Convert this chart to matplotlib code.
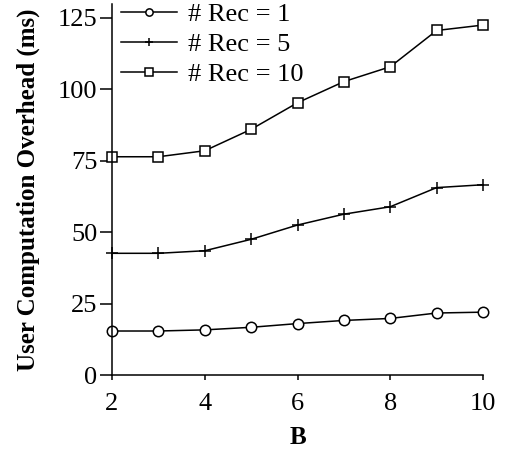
import matplotlib
matplotlib.use("Agg")
import matplotlib.pyplot as plt

# data
B = [2, 3, 4, 5, 6, 7, 8, 9, 10]
rec1 = [15.4, 15.4, 15.8, 16.7, 18.0, 19.1, 19.8, 21.7, 22.0]
rec5 = [42.6, 42.6, 43.5, 47.5, 52.5, 56.3, 58.9, 65.6, 66.6]
rec10 = [76.4, 76.4, 78.5, 86.0, 95.3, 102.7, 107.9, 120.6, 122.5]
labels = ["# Rec = 1", "# Rec = 5", "# Rec = 10"]
xticks = [2, 4, 6, 8, 10]
yticks = [0, 25, 50, 75, 100, 125]

plt.rcParams['font.family'] = ['Liberation Serif', 'STIXGeneral', 'DejaVu Serif']
plt.rcParams['mathtext.fontset'] = 'stix'

fs = 19
fig = plt.figure(figsize=(5.1, 4.54), dpi=100)
ax = fig.add_axes([0.2196, 0.174, 0.7275, 0.818])

lw = 1.1
ax.plot(B, rec1, color='black', lw=lw, marker='o', ms=7.5, mfc='white',
        mec='black', mew=1.1, label=labels[0])
ax.plot(B, rec5, color='black', lw=lw, marker='+', ms=9, mew=1.1,
        label=labels[1])
ax.plot(B, rec10, color='black', lw=lw, marker='s', ms=7.5, mfc='white',
        mec='black', mew=1.1, label=labels[2])

ax.set_xlim(2, 10)
ax.set_ylim(0, 130)
ax.set_xticks(xticks)
ax.set_yticks(yticks)
ax.spines['top'].set_visible(False)
ax.spines['right'].set_visible(False)
ax.spines['left'].set_linewidth(1.1)
ax.spines['bottom'].set_linewidth(1.1)
ax.tick_params(axis='y', direction='out', length=8.5, width=1.1, labelsize=fs, pad=2)
ax.tick_params(axis='x', direction='out', length=3.5, width=1.1, labelsize=fs, pad=9.5)

ax.set_xlabel("B", fontsize=fs - 1, fontweight='bold', labelpad=8)
ax.set_ylabel("User Computation Overhead (ms)", fontsize=fs - 1, fontweight='bold', labelpad=12.5)

ax.legend(loc='upper left', bbox_to_anchor=(-0.025, 1.053), frameon=False,
          fontsize=fs, handlelength=2.1, handletextpad=0.45, labelspacing=0.25,
          markerscale=0.7, borderaxespad=0.3)

for m in ax.get_lines():
    m.set_clip_on(False)

fig.savefig("out.png", dpi=100)
